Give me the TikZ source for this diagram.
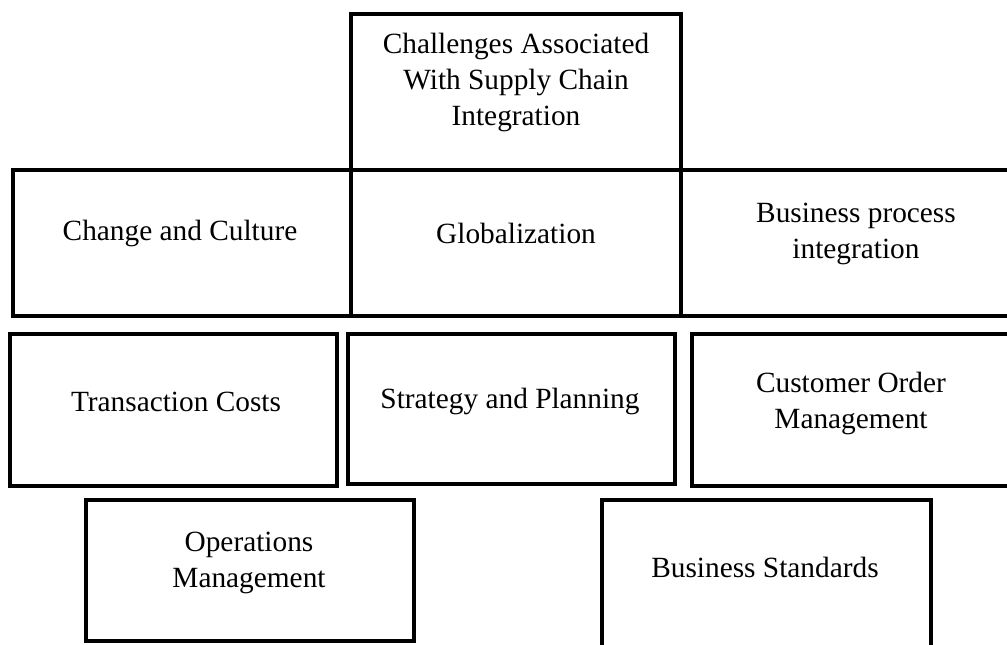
\documentclass[tikz,border=0pt]{standalone}
\usepackage{fontspec}
\setmainfont{Liberation Serif}
\tikzset{every picture/.style={line width=0.75pt}}
\tikzset{
	boxline/.style={line width=3pt},
	boxtext/.style={align=center, font=\fontsize{22}{27}\selectfont}}

\begin{document}
\begin{tikzpicture}[x=0.75pt,y=0.75pt,yscale=-1,xscale=1]
	\useasboundingbox (0,0) rectangle (1007,645);
	\clip (0,0) rectangle (1007,645);

	%Shape: Rectangle [title]
	\draw [boxline] (351,14) rectangle (681,170) ;
	%Shape: Rectangle [row 2]
	\draw [boxline] (13,170) rectangle (351,316) ;
	\draw [boxline] (351,170) rectangle (681,316) ;
	\draw [boxline] (681,170) rectangle (1020,316) ;
	%Shape: Rectangle [row 3]
	\draw [boxline] (10,334) rectangle (337,486) ;
	\draw [boxline] (348,334) rectangle (675,484) ;
	\draw [boxline] (692,334) rectangle (1020,486) ;
	%Shape: Rectangle [row 4]
	\draw [boxline] (86,500) rectangle (414,641) ;
	\draw [boxline] (602,500) rectangle (931,660) ;

	% Text Node
	\draw (516,82) node [boxtext] (title) {Challenges Associated\\With Supply Chain\\Integration};
	% Text Node
	\draw (180,233) node [boxtext] (culture) {Change and Culture};
	% Text Node
	\draw (516,233) node [boxtext] (global) {Globalization};
	% Text Node
	\draw (856,234) node [boxtext] (process) {Business process\\integration};
	% Text Node
	\draw (176,402) node [boxtext] (costs) {Transaction Costs};
	% Text Node
	\draw (510,401) node [boxtext] (strategy) {Strategy and Planning};
	% Text Node
	\draw (851,403) node [boxtext] (order) {Customer Order\\Management};
	% Text Node
	\draw (249,563) node [boxtext] (operations) {Operations\\Management};
	% Text Node
	\draw (765,567) node [boxtext] (standards) {Business Standards};

\end{tikzpicture}
\end{document}
